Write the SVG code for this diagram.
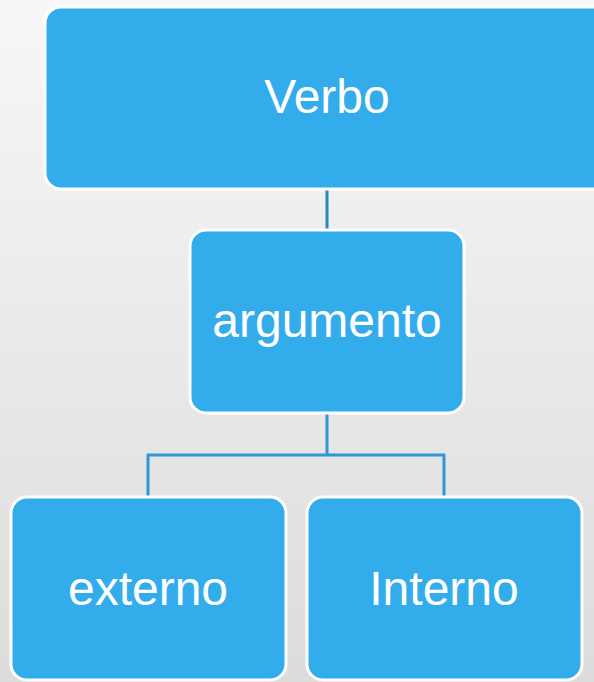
<svg xmlns="http://www.w3.org/2000/svg" width="594" height="682" viewBox="0 0 594 682">
<defs>
<linearGradient id="bg" x1="0" y1="0" x2="0" y2="1">
<stop offset="0" stop-color="#f7f7f7"/>
<stop offset="1" stop-color="#dcdcdc"/>
</linearGradient>
</defs>
<style>
.box{fill:#33acec;stroke:#ffffff;stroke-width:3}
.lbl{font-family:"Liberation Sans","Open Sans",sans-serif;font-size:48px;fill:#ffffff;text-anchor:middle}
.conn{fill:none;stroke:#2e98d6;stroke-width:3}
</style>
<rect x="0" y="0" width="594" height="682" fill="url(#bg)"/>
<g id="connectors">
<path class="conn" d="M327 189 V229" stroke="#2b88bd" style="stroke:#2b88bd"/>
<path class="conn" d="M327 413 V455 M148 497 V455 H444 V497"/>
</g>
<g id="verbo">
<rect class="box" x="45" y="7" width="566" height="182" rx="16"/>
<text class="lbl" x="327" y="113">Verbo</text>
</g>
<g id="argumento">
<rect class="box" x="190" y="230" width="274" height="183" rx="16"/>
<text class="lbl" x="327" y="337">argumento</text>
</g>
<g id="externo">
<rect class="box" x="11" y="497" width="275" height="183" rx="16"/>
<text class="lbl" x="148" y="605">externo</text>
</g>
<g id="interno">
<rect class="box" x="307" y="497" width="275" height="183" rx="16"/>
<text class="lbl" x="444" y="605">Interno</text>
</g>
</svg>
